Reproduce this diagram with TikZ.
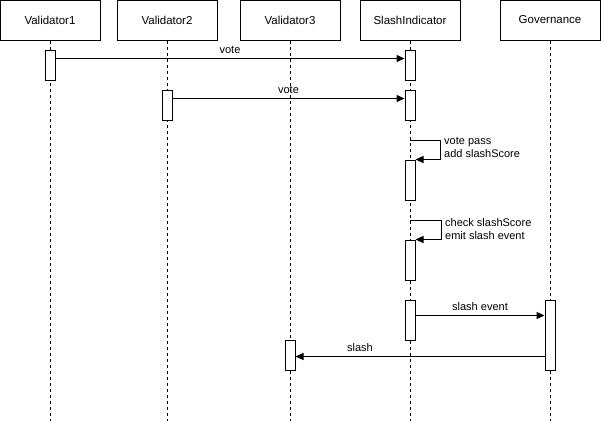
\documentclass[tikz,border=0pt]{standalone}
\usepackage{fontspec}
\setmainfont{Liberation Sans}
\usetikzlibrary{arrows.meta}
\begin{document}
\begin{tikzpicture}[x=1pt,y=-1pt,
  actor/.style={draw,line width=1pt,minimum width=100pt,minimum height=40pt,inner sep=0pt,font=\fontsize{11.5}{13}\selectfont},
  act/.style={draw,fill=white,line width=1pt,minimum width=10pt,inner sep=0pt},
  lifeline/.style={line width=1pt,dash pattern=on 3pt off 3pt},
  msg/.style={line width=1pt,-{Triangle[length=8pt,width=7pt]}},
  lbl/.style={font=\fontsize{11}{13.5}\selectfont,inner sep=0pt}]
\useasboundingbox (0,0) rectangle (601,421);
% actors
\node[actor] (v1) at (50,20) {Validator1};
\node[actor] (v2) at (167,20) {Validator2};
\node[actor] (v3) at (290,20) {Validator3};
\node[actor] (si) at (410,20) {SlashIndicator};
\node[actor] (gv) at (550,20) {Governance};
% lifeline ends
\coordinate (v1e) at (50,421);
\coordinate (v2e) at (167,421);
\coordinate (v3e) at (290,421);
\coordinate (sie) at (410,421);
\coordinate (gve) at (550,421);
\draw[lifeline] (v1.south) -- (v1e);
\draw[lifeline] (v2.south) -- (v2e);
\draw[lifeline] (v3.south) -- (v3e);
\draw[lifeline] (si.south) -- (sie);
\draw[lifeline] (gv.south) -- (gve);
% activations
\node[act,minimum height=30pt] (a1) at (50,65) {};
\node[act,minimum height=30pt] (s1) at (410,65) {};
\node[act,minimum height=30pt] (a2) at (167,105) {};
\node[act,minimum height=30pt] (s2) at (410,105) {};
\node[act,minimum height=40pt] (s3) at (410,180) {};
\node[act,minimum height=40pt] (s4) at (410,260) {};
\node[act,minimum height=40pt] (s5) at (410,320) {};
\node[act,minimum height=70pt] (g1) at (550,335) {};
\node[act,minimum height=30pt] (a3) at (290,355) {};
% messages
\draw[msg] ([yshift=-9pt]a1.north east) -- node[lbl,above=4pt] {vote} ([yshift=-9pt]s1.north west);
\draw[msg] ([yshift=-9pt]a2.north east) -- node[lbl,above=4pt] {vote} ([yshift=-9pt]s2.north west);
% self messages
\coordinate (sm1) at (410,140);
\draw[msg] (sm1) -- ++(30,0) |- (s3.north east);
\node[lbl,anchor=north west,align=left] (t1) at (444,137) {vote pass\\add slashScore};
\coordinate (sm2) at (410,220);
\draw[msg] (sm2) -- ++(31,0) |- (s4.north east);
\node[lbl,anchor=north west,align=left] (t2) at (445,218) {check slashScore\\emit slash event};
\draw[msg] ([yshift=-16pt]s5.north east) -- node[lbl,above=4pt] {slash event} ([yshift=-16pt]g1.north west);
\draw[msg] ([yshift=-57pt]g1.north west) -- node[lbl,above=4pt,xshift=-60pt] {slash} ([yshift=-17pt]a3.north east);
\end{tikzpicture}
\end{document}
